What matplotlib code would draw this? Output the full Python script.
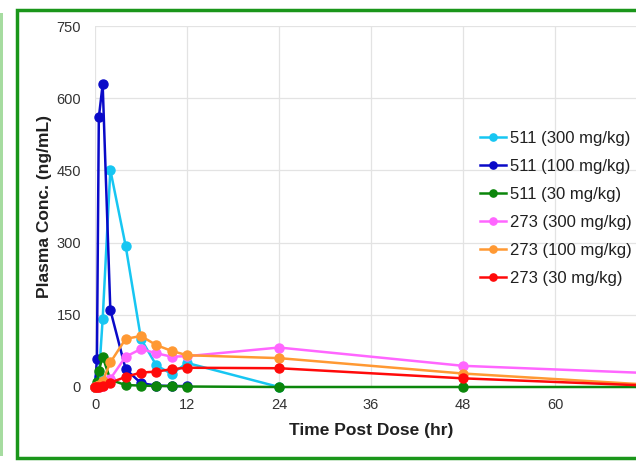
import numpy as np
import matplotlib.pyplot as plt
from matplotlib.patches import Rectangle

plt.rcParams['font.family'] = ['Liberation Sans', 'DejaVu Sans']

# sampling times (hr)
times = [0, 0.25, 0.5, 1, 2, 4, 6, 8, 10, 12, 24, 48, 72]

# plasma concentration (ng/mL)
c511_300 = [0, 5, 20, 141, 451, 293, 100, 45, 27, 50, 0, None, None]
c511_100 = [0, 58, 560, 629, 160, 37, 8, 3, 2, 2, None, None, None]
c511_30 = [0, 10, 34, 63, 15, 4, 3, 2, 2, 1, 0, 0, 0]
c273_300 = [0, 0, 1, 3, 17, 63, 79, 70, 63, 64, 82, 44, 29]
c273_100 = [0, 2, 5, 12, 51, 100, 106, 87, 75, 66, 60, 28, 5]
c273_30 = [0, 0, 1, 3, 9, 21, 30, 32, 37, 40, 39, 18, 3]

labels = ['511 (300 mg/kg)', '511 (100 mg/kg)', '511 (30 mg/kg)',
          '273 (300 mg/kg)', '273 (100 mg/kg)', '273 (30 mg/kg)']
colors = ['#17c6f2', '#0a0ac8', '#0b860b', '#ff66ff', '#ff9933', '#ff0a0a']
series = [c511_300, c511_100, c511_30, c273_300, c273_100, c273_30]

x_ticks = [0, 12, 24, 36, 48, 60, 72]
x_tick_labels = ['0', '12', '24', '36', '48', '60', '']  # 72 falls off the cropped edge
y_ticks = [0, 150, 300, 450, 600, 750]

W, H = 636, 468
fig = plt.figure(figsize=(W / 100, H / 100), dpi=100)

# screenshot frame
fig.patches.append(Rectangle((17 / W, 10 / H), 640 / W, 448 / H, transform=fig.transFigure,
                             facecolor='white', edgecolor='#1a961a', linewidth=2.5, zorder=-2))
fig.patches.append(Rectangle((0, 12 / H), 3.5 / W, 443 / H, transform=fig.transFigure,
                             facecolor='#a6dca0', edgecolor='none', zorder=-2))

ax = fig.add_axes([95 / W, 81 / H, 552 / W, 361 / H])
ax.set_facecolor('none')

for vals, lab, col in zip(series, labels, colors):
    t = [ti for ti, v in zip(times, vals) if v is not None]
    v = [v for v in vals if v is not None]
    ax.plot(t, v, '-o', color=col, lw=1.8, ms=6.5, label=lab, clip_on=False, zorder=3)

ax.set_xlim(0, 72)
ax.set_ylim(0, 750)
ax.set_xticks(x_ticks)
ax.set_xticklabels(x_tick_labels)
ax.set_yticks(y_ticks)
ax.grid(True, color='#e3e3e3', lw=0.9, zorder=0)
ax.set_axisbelow(True)
for s in ax.spines.values():
    s.set_visible(False)
ax.tick_params(length=0, labelsize=10.5, colors='#333333', pad=8)
ax.tick_params(axis='y', pad=10)

ax.set_xlabel('Time Post Dose (hr)', fontsize=12.5, fontweight='bold', color='#202020', labelpad=8)
ax.set_ylabel('Plasma Conc. (ng/mL)', fontsize=12.5, fontweight='bold', color='#202020', labelpad=3)

leg = ax.legend(loc='upper left', bbox_to_anchor=((473 - 95) / 552, (387 - 124) / 361),
                frameon=False, fontsize=12, handlelength=1.6, handletextpad=0.2,
                labelspacing=0.78, markerscale=0.8, borderaxespad=0)
for txt in leg.get_texts():
    txt.set_color('#202020')

fig.savefig('out.png', dpi=100)
